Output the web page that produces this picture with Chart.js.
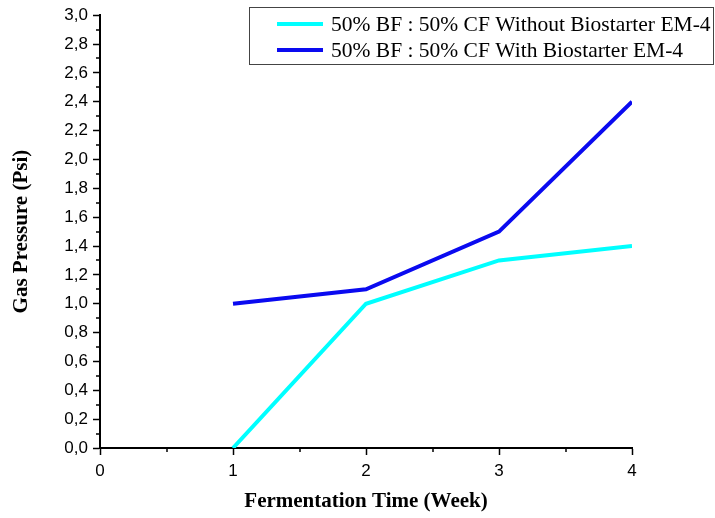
<!DOCTYPE html>
<html>
<head>
<meta charset="utf-8">
<script src="https://cdn.jsdelivr.net/npm/chart.js@4.4.1/dist/chart.umd.min.js"></script>
<style>
  html, body { margin: 0; padding: 0; background: #fff; }
  #wrap { width: 715px; height: 518px; }
</style>
</head>
<body>
<div id="wrap"><canvas id="gasChart" width="715" height="518"></canvas></div>
<script>
const weeks = [1, 2, 3, 4];
const withoutEM4 = [0, 1.0, 1.3, 1.4];
const withEM4 = [1.0, 1.1, 1.5, 2.4];
const seriesLabels = [
  '50% BF : 50% CF Without Biostarter EM-4',
  '50% BF : 50% CF With Biostarter EM-4'
];
const xTicks = [0, 1, 2, 3, 4];
const yMax = 3.0;

const toPoints = (ys) => weeks.map((w, i) => ({ x: w, y: ys[i] }));

// short ticks between the major ones, placed through the scales
const minorTicks = {
  id: 'minorTicks',
  afterDraw(chart) {
    const { ctx, scales: { x, y } } = chart;
    ctx.save();
    ctx.strokeStyle = '#000';
    ctx.lineWidth = 1.5;
    ctx.beginPath();
    for (let v = 0.5; v < 4; v += 1) {
      const px = Math.round(x.getPixelForValue(v));
      ctx.moveTo(px, y.bottom);
      ctx.lineTo(px, y.bottom + 4);
    }
    for (let v = 0.1; v < yMax; v += 0.2) {
      const py = Math.round(y.getPixelForValue(v));
      ctx.moveTo(x.left, py);
      ctx.lineTo(x.left - 4, py);
    }
    ctx.stroke();
    ctx.restore();
  }
};

// boxed legend in the top right, as in the original figure
const boxLegend = {
  id: 'boxLegend',
  afterDraw(chart) {
    const { ctx } = chart;
    const left = 249, top = 7, width = 464, height = 57;
    ctx.save();
    ctx.fillStyle = '#fff';
    ctx.fillRect(left, top, width, height);
    ctx.strokeStyle = '#444';
    ctx.lineWidth = 1;
    ctx.strokeRect(left + 0.5, top + 0.5, width, height);
    ctx.font = '21.5px "Liberation Serif", "Times New Roman", serif';
    ctx.textBaseline = 'middle';
    chart.data.datasets.forEach((ds, i) => {
      const cy = top + 17 + i * 26;
      ctx.strokeStyle = ds.borderColor;
      ctx.lineWidth = 4;
      ctx.beginPath();
      ctx.moveTo(277, cy);
      ctx.lineTo(323, cy);
      ctx.stroke();
      ctx.fillStyle = '#000';
      ctx.fillText(ds.label, 331, cy + 1);
    });
    ctx.restore();
  }
};

new Chart(document.getElementById('gasChart'), {
  type: 'line',
  data: {
    datasets: [
      {
        label: seriesLabels[0],
        data: toPoints(withoutEM4),
        borderColor: '#00FFFF',
        borderWidth: 4,
        pointRadius: 0,
        tension: 0
      },
      {
        label: seriesLabels[1],
        data: toPoints(withEM4),
        borderColor: '#0A0AF0',
        borderWidth: 4,
        pointRadius: 0,
        tension: 0
      }
    ]
  },
  plugins: [minorTicks, boxLegend],
  options: {
    responsive: false,
    animation: false,
    layout: { padding: { top: 15, right: 83, left: 0, bottom: 0 } },
    plugins: {
      legend: { display: false },
      tooltip: { enabled: false }
    },
    scales: {
      x: {
        type: 'linear',
        min: 0,
        max: 4,
        afterBuildTicks: (scale) => { scale.ticks = xTicks.map(v => ({ value: v })); },
        afterFit: (scale) => { scale.height = 70; },
        border: { display: true, color: '#000', width: 2 },
        grid: { drawOnChartArea: false, tickLength: 7, color: '#000', tickWidth: 1.5 },
        ticks: {
          color: '#000',
          padding: 6,
          maxRotation: 0,
          font: { family: '"Liberation Sans", Arial, sans-serif', size: 17 }
        },
        title: {
          display: true,
          text: 'Fermentation Time (Week)',
          color: '#000',
          padding: { top: 4, bottom: 4 },
          font: { family: '"Liberation Serif", "Times New Roman", serif', size: 21, weight: 'bold' }
        }
      },
      y: {
        min: 0,
        max: yMax,
        afterFit: (scale) => { scale.width = 100; },
        border: { display: true, color: '#000', width: 2 },
        grid: { drawOnChartArea: false, tickLength: 7, color: '#000', tickWidth: 1.5 },
        ticks: {
          stepSize: 0.2,
          color: '#000',
          padding: 5,
          font: { family: '"Liberation Sans", Arial, sans-serif', size: 17 },
          callback: (v) => v.toFixed(1).replace('.', ',')
        },
        title: {
          display: true,
          text: 'Gas Pressure (Psi)',
          color: '#000',
          padding: { top: 9, bottom: 0 },
          font: { family: '"Liberation Serif", "Times New Roman", serif', size: 21, weight: 'bold' }
        }
      }
    }
  }
});
</script>
</body>
</html>
